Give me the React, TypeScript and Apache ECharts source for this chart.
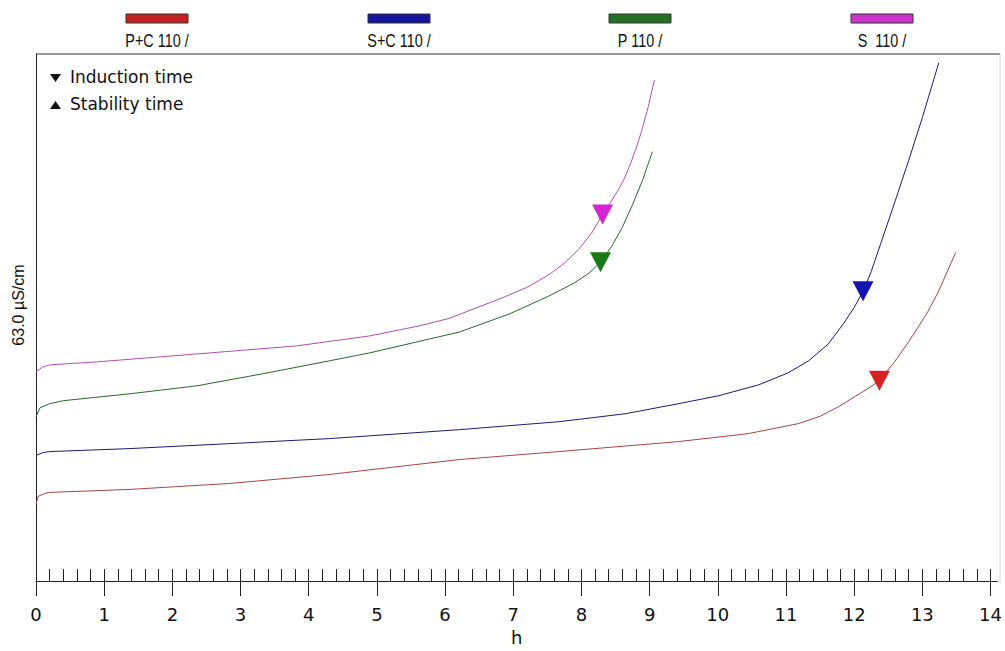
import React, { useEffect, useRef } from "react";
import * as echarts from "echarts";

// ---- data (hours, µS/cm) ----
const seriesNames = ["P+C 110 /", "S+C 110 /", "P 110 /", "S  110 /"];

const pcTime = [0, 0.03, 0.13, 0.2, 1.38, 2.84, 4.3, 6.21, 7.67, 9.42, 10.45, 11.18, 11.5, 11.77, 12.0, 12.2, 12.37, 12.6, 12.79, 12.95, 13.08, 13.23, 13.49];
const pcValue = [9.17, 10.12, 10.48, 10.6, 10.96, 11.67, 12.74, 14.53, 15.48, 16.67, 17.63, 18.82, 19.7, 20.84, 22.0, 23.0, 23.94, 26.3, 28.5, 30.5, 32.2, 34.5, 39.3];

const scTime = [0, 0.1, 0.2, 1.38, 2.84, 4.3, 6.21, 7.67, 8.65, 9.42, 10.01, 10.6, 11.03, 11.33, 11.62, 11.84, 12.0, 12.13, 12.25, 12.4, 12.6, 12.8, 13.0, 13.24];
const scValue = [15.01, 15.36, 15.48, 15.84, 16.43, 17.03, 18.1, 19.05, 20.01, 21.2, 22.15, 23.46, 24.89, 26.32, 28.34, 30.73, 32.7, 34.65, 37.0, 40.6, 45.4, 50.3, 55.4, 61.93];

const pTime = [0, 0.06, 0.2, 0.4, 1.38, 2.36, 3.32, 4.3, 4.89, 6.21, 6.94, 7.52, 7.89, 8.11, 8.28, 8.45, 8.6, 8.75, 8.9, 9.04];
const pValue = [19.65, 20.72, 21.2, 21.56, 22.39, 23.34, 24.77, 26.32, 27.27, 29.77, 31.92, 34.06, 35.61, 36.8, 38.11, 40.1, 42.3, 45.0, 48.0, 51.33];

const sTime = [0, 0.1, 0.2, 0.89, 2.36, 3.82, 4.89, 5.62, 6.06, 6.79, 7.2, 7.52, 7.75, 7.96, 8.15, 8.31, 8.43, 8.55, 8.64, 8.72, 8.8, 8.88, 8.98, 9.07];
const sValue = [25.01, 25.6, 25.84, 26.2, 27.15, 28.11, 29.3, 30.5, 31.4, 33.7, 35.1, 36.6, 38.0, 39.66, 41.6, 43.83, 45.3, 46.9, 48.3, 49.9, 51.7, 53.71, 56.7, 59.9];

const inductionTime = [12.37, 12.13, 8.28, 8.31];
const inductionValue = [23.94, 34.65, 38.11, 43.83];

const majorTicks = [0, 1, 2, 3, 4, 5, 6, 7, 8, 9, 10, 11, 12, 13, 14];
const minorTicks: number[] = [];
for (let i = 0; i <= 70; i++) minorTicks.push(Math.round(i * 0.2 * 10) / 10);

const yAxisLabel = "63.0 µS/cm";
const xAxisLabel = "h";

// ---- styles ----
const lineColors = ["#a84444", "#1c1c70", "#2a682a", "#b050b0"];
const markerColors = ["#d82222", "#1414b0", "#1a7a1a", "#d424d4"];
const legendColors = ["#c42222", "#1515a0", "#227022", "#cc33cc"];
const legendX = [157, 399, 640, 882];
const FONT = "'Liberation Sans', Arial, sans-serif";
const WIDE = "'DejaVu Sans', 'Liberation Sans', sans-serif";

export default function App() {
  const ref = useRef<HTMLDivElement>(null);
  useEffect(() => {
    if (!ref.current) return;
    const chart = echarts.init(ref.current, undefined, { renderer: "svg" });
    const times = [pcTime, scTime, pTime, sTime];
    const vals = [pcValue, scValue, pValue, sValue];

    const lineSeries = seriesNames.map((name, i) => ({
      name,
      type: "line",
      xAxisIndex: 0,
      data: times[i].map((t, k) => [t, vals[i][k]]),
      symbol: "none",
      smooth: false,
      lineStyle: { color: lineColors[i], width: 1 },
      itemStyle: { color: lineColors[i] },
      z: 2,
    }));
    const markerSeries = seriesNames.map((name, i) => ({
      name: name + " induction",
      type: "scatter",
      xAxisIndex: 0,
      data: [[inductionTime[i], inductionValue[i]]],
      symbol: "triangle",
      symbolRotate: 180,
      symbolSize: [21, 20],
      itemStyle: { color: markerColors[i], opacity: 1 },
      z: 5,
    }));

    const legendGraphics: any[] = [];
    seriesNames.forEach((name, i) => {
      legendGraphics.push({
        type: "rect",
        shape: { x: legendX[i] - 31, y: 14, width: 62, height: 9 },
        style: { fill: legendColors[i], stroke: "#333", lineWidth: 1 },
      });
      legendGraphics.push({
        type: "text",
        x: legendX[i],
        y: 40,
        scaleX: 0.8,
        style: {
          text: name,
          font: `18px ${FONT}`,
          fill: "#111",
          textAlign: "center",
          textVerticalAlign: "middle",
        },
      });
    });

    chart.setOption({
      animation: false,
      backgroundColor: "#ffffff",
      grid: { left: 36, right: 5, top: 54, bottom: 68, containLabel: false },
      xAxis: [
        {
          type: "value",
          min: 0,
          max: 14.1,
          position: "bottom",
          name: xAxisLabel,
          nameLocation: "middle",
          nameGap: 45,
          nameTextStyle: { color: "#111", fontSize: 18, fontFamily: WIDE },
          axisLine: { show: true, lineStyle: { color: "#222", width: 1 } },
          axisTick: { show: true, inside: false, length: 15, customValues: majorTicks, lineStyle: { color: "#222", width: 1 } },
          axisLabel: { show: true, customValues: majorTicks, margin: 24, color: "#111", fontSize: 18, fontFamily: WIDE },
          splitLine: { show: false },
        },
        {
          type: "value",
          min: 0,
          max: 14.1,
          position: "bottom",
          axisLine: { show: false },
          axisTick: { show: true, inside: true, length: 12, customValues: minorTicks, lineStyle: { color: "#222", width: 1 } },
          axisLabel: { show: false },
          splitLine: { show: false },
        },
      ],
      yAxis: {
        type: "value",
        min: 0,
        max: 63,
        axisLine: { show: true, lineStyle: { color: "#222", width: 1 } },
        axisTick: { show: false },
        axisLabel: { show: false },
        splitLine: { show: false },
      },
      series: [...lineSeries, ...markerSeries],
      graphic: [
        ...legendGraphics,
        { type: "line", shape: { x1: 36, y1: 54, x2: 1000, y2: 54 }, style: { stroke: "#333", lineWidth: 1 } },
        { type: "line", shape: { x1: 1000, y1: 54, x2: 1000, y2: 583 }, style: { stroke: "#d8d8d8", lineWidth: 1 } },
        { type: "polygon", shape: { points: [[50, 74], [61, 74], [55.5, 82]] }, style: { fill: "#111" } },
        { type: "text", x: 70, y: 77, style: { text: "Induction time", font: `17px ${WIDE}`, fill: "#111", textVerticalAlign: "middle" } },
        { type: "polygon", shape: { points: [[50, 109], [61, 109], [55.5, 101]] }, style: { fill: "#111" } },
        { type: "text", x: 70, y: 104, style: { text: "Stability time", font: `17px ${WIDE}`, fill: "#111", textVerticalAlign: "middle" } },
        {
          type: "text",
          x: 18,
          y: 305,
          rotation: Math.PI / 2,
          style: { text: yAxisLabel, font: `16px ${FONT}`, fill: "#111", textAlign: "center", textVerticalAlign: "middle" },
        },
      ],
    });
    return () => chart.dispose();
  }, []);
  return <div ref={ref} style={{ position: "fixed", left: 0, top: 0, width: 1005, height: 651 }} />;
}
